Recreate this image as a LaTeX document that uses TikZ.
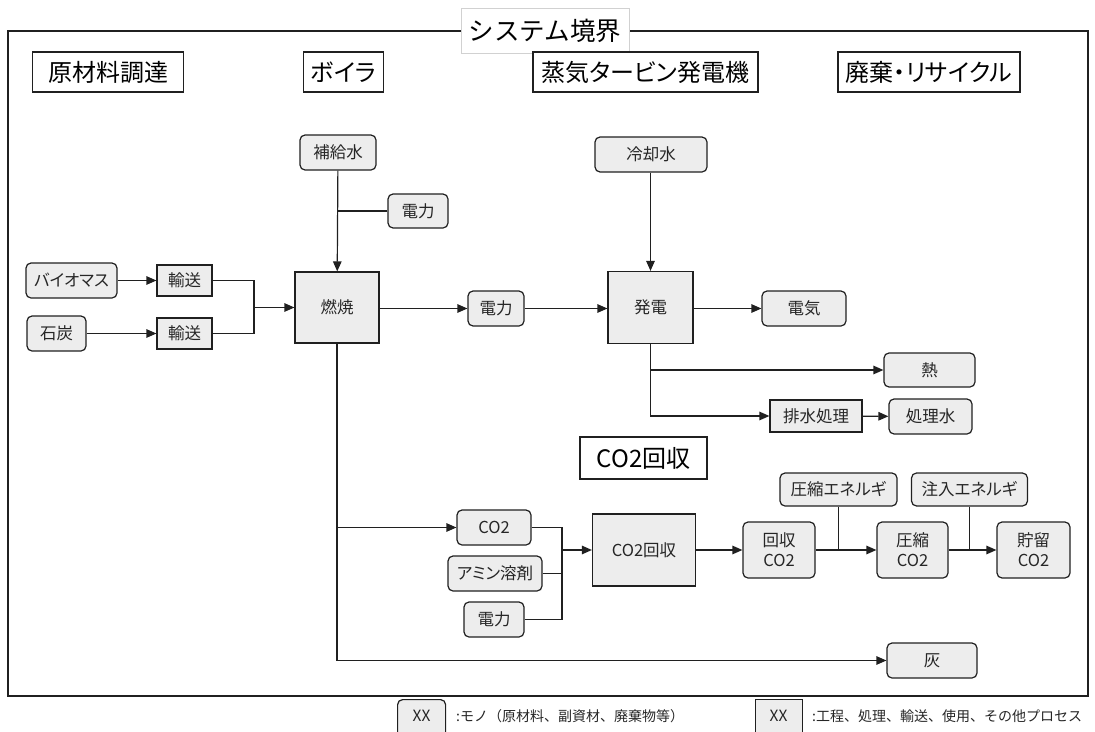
\documentclass[tikz,border=0pt]{standalone}
\usepackage{fontspec}
\setmainfont{Noto Sans CJK JP}[RawFeature=+palt]
\newfontfamily\legfont{Noto Sans CJK JP}
\usetikzlibrary{arrows.meta}
\definecolor{boxfill}{HTML}{EDEDED}
\definecolor{txt}{HTML}{262626}
\definecolor{edge}{HTML}{202020}
\tikzset{
  mono/.style={draw=edge, rounded corners=5pt, fill=boxfill, line width=1.2pt, inner sep=0pt,
    align=center, text=txt, font=\fontsize{16.5}{20}\selectfont},
  proc/.style={draw=edge, fill=boxfill, line width=1.2pt, inner sep=0pt,
    align=center, text=txt, font=\fontsize{16.5}{20}\selectfont},
  hdr/.style={draw=edge, fill=white, line width=1.2pt, inner sep=0pt, minimum height=40pt,
    font=\fontsize{24}{28}\selectfont},
  conn/.style={line width=1.2pt, draw=edge},
  arr/.style={line width=1.2pt, draw=edge, -{Triangle[length=10pt,width=8.5pt]}},
  legtxt/.style={text=txt, anchor=west, inner sep=0pt, font=\legfont\fontsize{14}{17}\selectfont},
}
\begin{document}
\begin{tikzpicture}[x=1pt,y=-1pt]
\useasboundingbox (0,0) rectangle (1095,731);
% system boundary
\draw[line width=1.5pt, draw=edge] (8,31) rectangle (1088,696);
\node[draw=black!18, fill=white, line width=0.8pt, minimum width=168pt, minimum height=45pt, inner sep=0pt,
  font=\legfont\fontsize{25.5}{30}\selectfont] (title) at (545,30.5) {システム境界};
% headers
\node[hdr, minimum width=151pt] (h1) at (108,72) {原材料調達};
\node[hdr, minimum width=80pt] (h2) at (343.5,72) {ボイラ};
\node[hdr, minimum width=225pt] (h3) at (645.5,72) {蒸気タービン発電機};
\node[hdr, minimum width=182pt] (h4) at (929,72) {廃棄・リサイクル};
\node[hdr, minimum width=127pt, minimum height=42pt] (h5) at (643.5,458) {CO2回収};

% boiler area
\node[mono, minimum width=76pt, minimum height=35pt] (hk) at (338,152.5) {補給水};
\node[mono, minimum width=60pt, minimum height=34pt] (dr1) at (418,211) {電力};
\node[mono, minimum width=91pt, minimum height=35pt] (bio) at (71.5,280.5) {バイオマス};
\node[mono, minimum width=59pt, minimum height=35pt] (sek) at (56.5,333.5) {石炭};
\node[proc, minimum width=55pt, minimum height=31pt] (yu1) at (184.5,280.5) {輸送};
\node[proc, minimum width=55pt, minimum height=31pt] (yu2) at (184.5,333.5) {輸送};
\node[proc, minimum width=84pt, minimum height=71pt] (nen) at (337,307.5) {燃焼};
\node[mono, minimum width=56pt, minimum height=35pt] (dr2) at (496,308.5) {電力};

% turbine area
\node[mono, minimum width=112pt, minimum height=35pt] (rei) at (651,154.5) {冷却水};
\node[proc, minimum width=85pt, minimum height=72pt] (hat) at (650.5,307.5) {発電};
\node[mono, minimum width=84pt, minimum height=35pt] (den) at (804,308.5) {電気};
\node[mono, minimum width=91pt, minimum height=34pt] (net) at (929.5,370) {熱};
\node[proc, minimum width=92pt, minimum height=32pt] (hai) at (816,416) {排水処理};
\node[mono, minimum width=83pt, minimum height=35pt] (sho) at (930.5,416.5) {処理水};

% CO2 capture area
\node[mono, minimum width=74pt, minimum height=35pt] (co2) at (494,527.5) {CO2};
\node[mono, minimum width=94pt, minimum height=35pt] (ami) at (495,573.5) {アミン溶剤};
\node[mono, minimum width=60pt, minimum height=35pt] (dr3) at (494,619.5) {電力};
\node[proc, minimum width=103pt, minimum height=72pt] (kai) at (644,550) {CO2回収};
\node[mono, minimum width=72pt, minimum height=56pt] (kc) at (779,550) {回収\\CO2};
\node[mono, minimum width=117pt, minimum height=33pt] (ae) at (838.5,489.5) {圧縮エネルギ};
\node[mono, minimum width=71pt, minimum height=56pt] (ac) at (912.5,550) {圧縮\\CO2};
\node[mono, minimum width=116pt, minimum height=33pt] (ce) at (969.5,489.5) {注入エネルギ};
\node[mono, minimum width=73pt, minimum height=56pt] (cc) at (1033.5,550) {貯留\\CO2};
\node[mono, minimum width=90pt, minimum height=35pt] (hai2) at (932,660.5) {灰};

% legend
\begin{scope}
\clip (0,0) rectangle (1095,731);
\node[mono, minimum width=48pt, minimum height=38pt, anchor=north west] (lg1) at (397,699) {};
\node[proc, minimum width=47pt, minimum height=38pt, anchor=north west] (lg2) at (755,699) {};
\end{scope}
\node[text=txt, font=\legfont\fontsize{15.5}{18}\selectfont] (lx1) at (421.5,716) {XX};
\node[text=txt, font=\legfont\fontsize{15.5}{18}\selectfont] (lx2) at (778.5,716) {XX};
\node[legtxt] (lt1) at (456,716) {:モノ（原材料、副資材、廃棄物等）};
\node[legtxt] (lt2) at (812,716) {:工程、処理、輸送、使用、その他プロセス};

% connectors: boiler
\draw[arr] (hk) -- (nen);
\draw[conn] (dr1.west) -- (dr1.west -| hk);
\draw[arr] (bio) -- (yu1);
\draw[arr] (sek) -- (yu2);
\coordinate (j1) at (254,307.5);
\draw[conn] (yu1.east) -| (j1);
\draw[conn] (yu2.east) -| (j1);
\draw[arr] (j1) -- (nen.west);
\draw[arr] (nen.east |- dr2) -- (dr2);
\draw[arr] (dr2) -- (dr2 -| hat.west);
% turbine
\draw[arr] (rei.south -| hat) -- (hat);
\draw[arr] (hat.east |- den) -- (den);
\draw[arr] (hat.south) |- (hai.west);
\draw[arr] (hat.south |- net.west) -- (net.west);
\draw[arr] (hai) -- (sho);
% combustion outputs
\draw[arr] (nen.south) |- (hai2.west);
\draw[arr] (nen.south |- co2.west) -- (co2.west);
% CO2 capture inputs
\coordinate (j2) at (562,550);
\draw[conn] (co2.east) -| (j2);
\draw[conn] (dr3.east) -| (j2);
\draw[conn] (ami.east) -- (ami.east -| j2);
\draw[arr] (j2) -- (kai.west);
\draw[arr] (kai) -- (kc);
\draw[arr] (kc) -- (ac);
\draw[arr] (ac) -- (cc);
\draw[conn] (ae.south) -- (ae.south |- kc.east);
\draw[conn] (ce.south) -- (ce.south |- ac.east);
\end{tikzpicture}
\end{document}
